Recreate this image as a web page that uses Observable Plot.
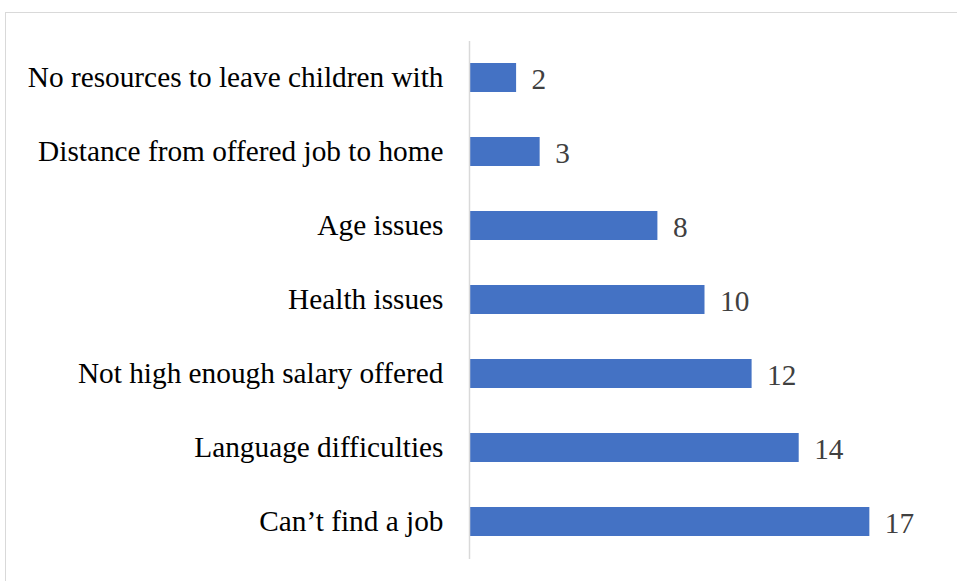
<!DOCTYPE html>
<html>
<head>
<meta charset="utf-8">
<script src="https://cdn.jsdelivr.net/npm/d3@7"></script>
<script src="https://cdn.jsdelivr.net/npm/@observablehq/plot@0.6"></script>
<style>
  html, body { margin: 0; padding: 0; background: #fff; overflow: hidden; }
  #wrap { position: relative; width: 957px; height: 581px; }
  #frame { position: absolute; left: 5px; top: 12px; width: 1000px; height: 1000px;
           border-left: 1.5px solid #d9d9d9; border-top: 1.5px solid #d9d9d9; box-sizing: border-box; }
  #chart { position: absolute; left: 0; top: 0; }
  #chart svg, #chart svg text { font-family: "Liberation Serif", "Times New Roman", serif !important; }
</style>
</head>
<body>
<div id="wrap"><div id="frame"></div><div id="chart"></div></div>
<script>
const categories = [
  "No resources to leave children with",
  "Distance from offered job to home",
  "Age issues",
  "Health issues",
  "Not high enough salary offered",
  "Language difficulties",
  "Can\u2019t find a job"
];
const values = [2, 3, 8, 10, 12, 14, 17];

const data = categories.map((c, i) => ({category: c, value: values[i]}));

const chart = Plot.plot({
  width: 957,
  height: 581,
  marginLeft: 469,
  marginRight: 17,
  marginTop: 41,
  marginBottom: 22,
  style: {fontSize: "29.3px", color: "#000", background: "transparent"},
  x: {domain: [0, 20], axis: null},
  y: {domain: categories, paddingInner: 0.608, paddingOuter: 0.304, label: null, tickSize: 0, tickPadding: 26},
  marks: [
    Plot.barX(data, {y: "category", x: "value", fill: "#4472C4"}),
    Plot.ruleX([0], {stroke: "#d9d9d9", strokeWidth: 1.5}),
    Plot.text(data, {y: "category", x: "value", text: d => String(d.value), textAnchor: "start", dx: 15, dy: 2, fill: "#404040", fontSize: 29.3}),
    Plot.axisY({tickSize: 0, tickPadding: 26, fontSize: 29.3, label: null, fill: "#000"})
  ]
});
document.getElementById("chart").appendChild(chart);
</script>
</body>
</html>
